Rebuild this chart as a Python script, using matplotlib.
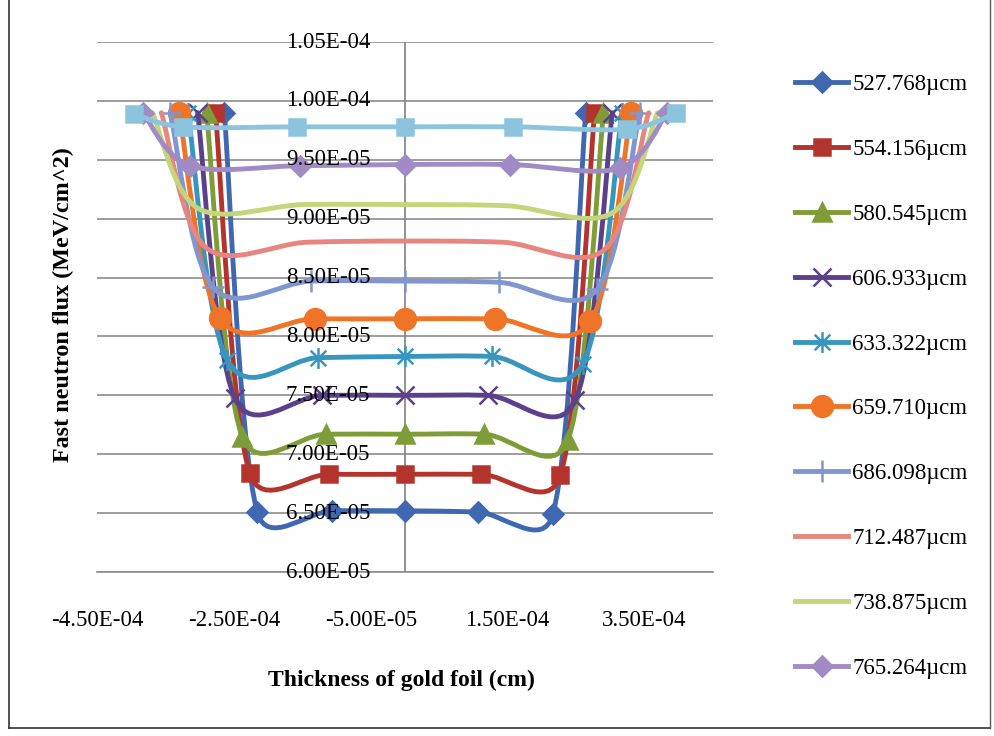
import numpy as np
import matplotlib
matplotlib.use('Agg')
import matplotlib.pyplot as plt
from matplotlib.path import Path
from matplotlib.patches import PathPatch
from matplotlib.lines import Line2D

# Set graph parameters.
plt.rcParams['font.family'] = 'Liberation Serif'    # Times-like font.
plt.rcParams['font.size'] = 16.5

# Series labels (the last series is not shown in the legend).
series_labels = ['527.768µcm', '554.156µcm', '580.545µcm', '606.933µcm', '633.322µcm',
                 '659.710µcm', '686.098µcm', '712.487µcm', '738.875µcm', '765.264µcm',
                 '791.653µcm']

# Thickness position (cm) and fast neutron flux (MeV/cm^2) for each series.
x_527 = [-2.64e-4, -2.16e-4, -1.06e-4, 0.0, 1.06e-4, 2.16e-4, 2.64e-4]
y_527 = [9.90e-5, 6.51e-5, 6.52e-5, 6.52e-5, 6.51e-5, 6.49e-5, 9.90e-5]
x_554 = [-2.77e-4, -2.27e-4, -1.11e-4, 0.0, 1.11e-4, 2.27e-4, 2.77e-4]
y_554 = [9.90e-5, 6.84e-5, 6.83e-5, 6.83e-5, 6.83e-5, 6.82e-5, 9.90e-5]
x_580 = [-2.90e-4, -2.38e-4, -1.16e-4, 0.0, 1.16e-4, 2.38e-4, 2.90e-4]
y_580 = [9.90e-5, 7.15e-5, 7.17e-5, 7.17e-5, 7.17e-5, 7.12e-5, 9.90e-5]
x_606 = [-3.03e-4, -2.49e-4, -1.21e-4, 0.0, 1.21e-4, 2.49e-4, 3.03e-4]
y_606 = [9.90e-5, 7.48e-5, 7.50e-5, 7.50e-5, 7.50e-5, 7.46e-5, 9.90e-5]
x_633 = [-3.17e-4, -2.60e-4, -1.27e-4, 0.0, 1.27e-4, 2.60e-4, 3.17e-4]
y_633 = [9.90e-5, 7.80e-5, 7.82e-5, 7.83e-5, 7.83e-5, 7.77e-5, 9.90e-5]
x_659 = [-3.30e-4, -2.71e-4, -1.32e-4, 0.0, 1.32e-4, 2.71e-4, 3.30e-4]
y_659 = [9.90e-5, 8.16e-5, 8.15e-5, 8.15e-5, 8.15e-5, 8.13e-5, 9.90e-5]
x_686 = [-3.43e-4, -2.81e-4, -1.37e-4, 0.0, 1.37e-4, 2.81e-4, 3.43e-4]
y_686 = [9.90e-5, 8.42e-5, 8.47e-5, 8.47e-5, 8.46e-5, 8.40e-5, 9.90e-5]
x_712 = [-3.56e-4, -2.92e-4, -1.43e-4, 0.0, 1.43e-4, 2.92e-4, 3.56e-4]
y_712 = [9.90e-5, 8.76e-5, 8.80e-5, 8.81e-5, 8.80e-5, 8.74e-5, 9.90e-5]
x_738 = [-3.69e-4, -3.03e-4, -1.48e-4, 0.0, 1.48e-4, 3.03e-4, 3.69e-4]
y_738 = [9.90e-5, 9.09e-5, 9.12e-5, 9.12e-5, 9.11e-5, 9.05e-5, 9.90e-5]
x_765 = [-3.83e-4, -3.14e-4, -1.53e-4, 0.0, 1.53e-4, 3.14e-4, 3.83e-4]
y_765 = [9.90e-5, 9.45e-5, 9.45e-5, 9.46e-5, 9.46e-5, 9.43e-5, 9.90e-5]
x_791 = [-3.96e-4, -3.25e-4, -1.58e-4, 0.0, 1.58e-4, 3.25e-4, 3.96e-4]
y_791 = [9.89e-5, 9.78e-5, 9.78e-5, 9.78e-5, 9.78e-5, 9.76e-5, 9.90e-5]

list_x = [x_527, x_554, x_580, x_606, x_633, x_659, x_686, x_712, x_738, x_765, x_791]
list_y = [y_527, y_554, y_580, y_606, y_633, y_659, y_686, y_712, y_738, y_765, y_791]

# Axis ticks and labels.
x_ticks = [-4.5e-4, -2.5e-4, -0.5e-4, 1.5e-4, 3.5e-4]
x_tick_labels = ['-4.50E-04', '-2.50E-04', '-5.00E-05', '1.50E-04', '3.50E-04']
y_ticks = [6.0e-5, 6.5e-5, 7.0e-5, 7.5e-5, 8.0e-5, 8.5e-5, 9.0e-5, 9.5e-5, 1.0e-4, 1.05e-4]
y_tick_labels = ['6.00E-05', '6.50E-05', '7.00E-05', '7.50E-05', '8.00E-05',
                 '8.50E-05', '9.00E-05', '9.50E-05', '1.00E-04', '1.05E-04']

# Excel 2007 style colours and markers.
list_color = ['#3F68B0', '#B3342C', '#7E9C38', '#5C4089', '#3796BD', '#EF7428',
              '#8096D0', '#E6867E', '#C4D57A', '#A08BC4', '#8CC4DE']
star = Path([(0, -1), (0, 1), (-0.75, -0.75), (0.75, 0.75), (-0.75, 0.75), (0.75, -0.75)],
            [Path.MOVETO, Path.LINETO] * 3)
list_marker = ['D', 's', '^', 'x', star, 'o', '+', 'None', 'None', 'D', 's']
list_msize = [10, 12, 13, 13, 15, 15, 16, 0, 0, 10, 12]


def excel_smooth_path(ax, xs, ys):
    """ Build a Bezier path like Excel's smoothed line (computed in pixel space). """
    pts = ax.transData.transform(np.column_stack([xs, ys]))
    n = len(pts)
    verts = [pts[0]]
    codes = [Path.MOVETO]
    for i in range(n - 1):
        p0 = pts[max(i - 1, 0)]
        p1 = pts[i]
        p2 = pts[i + 1]
        p3 = pts[min(i + 2, n - 1)]
        d12 = np.hypot(*(p2 - p1))
        t1 = (p2 - p0) / 6.0
        t2 = (p3 - p1) / 6.0
        # Control arms are clipped at half the segment length.
        l1 = np.hypot(*t1)
        if l1 > d12 / 2:
            t1 = t1 * (d12 / 2) / l1
        l2 = np.hypot(*t2)
        if l2 > d12 / 2:
            t2 = t2 * (d12 / 2) / l2
        verts += [p1 + t1, p2 - t2, p2]
        codes += [Path.CURVE4] * 3
    verts = ax.transData.inverted().transform(np.array(verts))
    return Path(verts, codes)


# Generate figure frame.
fig = plt.figure(figsize=(9.94, 7.36), dpi=100)
ax = fig.add_axes([0.0976, 0.2228, 0.6197, 0.7201])
ax.set_xlim(-4.5e-4, 4.5e-4)
ax.set_ylim(6.0e-5, 1.05e-4)

# Grid and axes.
ax.set_yticks(y_ticks)
ax.yaxis.set_ticklabels([])
ax.tick_params(axis='y', length=0)
ax.set_xticks(x_ticks, x_tick_labels)
ax.tick_params(axis='x', length=0, pad=27, labelsize=16.5)
ax.grid(axis='y', color='#8C8C8C', linewidth=1.2)
ax.set_axisbelow(True)
for side in ['top', 'left', 'right']:
    ax.spines[side].set_visible(False)
ax.spines['bottom'].set_color('#8C8C8C')
ax.spines['bottom'].set_linewidth(1.2)
ax.axvline(0, color='#808080', linewidth=1.2, zorder=1)

# Plot each series.
handles = []
for idx in range(len(list_x)):
    color = list_color[idx]
    path = excel_smooth_path(ax, list_x[idx], list_y[idx])
    ax.add_patch(PathPatch(path, facecolor='none', edgecolor=color, lw=3.5,
                           capstyle='round', joinstyle='round', zorder=3 + idx * 0.01))
    ax.plot(list_x[idx], list_y[idx], ls='none', marker=list_marker[idx],
            ms=list_msize[idx], color=color, mec=color, mew=1.8, zorder=3.005 + idx * 0.01)
    handles.append(Line2D([], [], color=color, lw=3.5, marker=list_marker[idx],
                          ms=list_msize[idx], mec=color, mew=1.8))

# Y tick labels sit next to the vertical axis, over the plot.
for val, lab in zip(y_ticks, y_tick_labels):
    ax.annotate(lab, xy=(0, val), xytext=(-25, 0), textcoords='offset points',
                ha='right', va='center', fontsize=16.5, zorder=10, annotation_clip=False)

# Axis titles.
fig.text(401 / 994, 1 - 680 / 736, 'Thickness of gold foil (cm)', ha='center', va='center',
         fontsize=17, fontweight='bold')
fig.text(63 / 994, 1 - 305 / 736, 'Fast neutron flux (MeV/cm^2)', ha='center', va='center',
         rotation=90, fontsize=17.4, fontweight='bold')

# Set legend.
fig.legend(handles[:10], series_labels[:10], loc='upper left', bbox_to_anchor=(0.80, 0.899),
           frameon=False, fontsize=16.5, handlelength=2.3, handletextpad=0.2,
           labelspacing=1.91, borderpad=0, borderaxespad=0, numpoints=1)

# Outer frame of the chart.
fig.add_artist(Line2D([9 / 994, 9 / 994], [1.0, 1 - 728 / 736], color='#333333', lw=1.2))
fig.add_artist(Line2D([9 / 994, 990 / 994], [1 - 728 / 736, 1 - 728 / 736], color='#333333', lw=1.2))
fig.add_artist(Line2D([990 / 994, 990 / 994], [1.0, 1 - 728 / 736], color='#555555', lw=1.0))

fig.savefig('out.png', dpi=100)
plt.close()
